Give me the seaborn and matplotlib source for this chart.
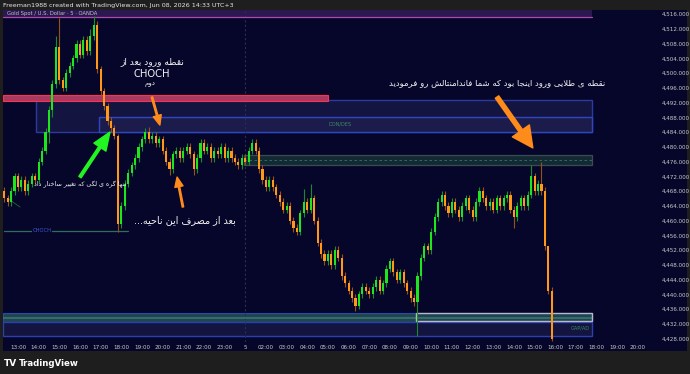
import matplotlib
matplotlib.use("Agg")
import matplotlib.pyplot as plt
import seaborn as sns
import numpy as np
import pandas as pd
from matplotlib.patches import Rectangle

# ---------------- data ----------------
first_open = 4468.0
closes = [
    4466, 4465, 4468, 4472, 4469, 4471, 4468, 4470, 4472, 4471,   # 0-9
    4476, 4479, 4484, 4490, 4497, 4507, 4498, 4496, 4500, 4502,   # 10-19
    4504, 4508, 4505, 4509, 4506, 4510, 4513, 4501, 4495, 4491,   # 20-29
    4487, 4485, 4483, 4459, 4464, 4470, 4473, 4475, 4477, 4480,   # 30-39
    4482, 4484, 4482, 4483, 4481, 4482, 4479, 4476, 4474, 4478,   # 40-49
    4479, 4477, 4479, 4480, 4478, 4474, 4477, 4481, 4479, 4480,   # 50-59
    4477, 4479, 4478, 4480, 4477, 4479, 4477, 4476, 4475, 4477,   # 60-69
    4476, 4479, 4481, 4479, 4474, 4471, 4469, 4471, 4469, 4467,   # 70-79
    4465, 4463, 4464, 4460, 4458, 4457, 4462, 4465, 4463, 4466,   # 80-89
    4460, 4454, 4451, 4449, 4451, 4448, 4452, 4450, 4445, 4443,   # 90-99
    4441, 4439, 4437, 4440, 4442, 4441, 4440, 4442, 4444, 4441,   # 100-109
    4443, 4447, 4449, 4446, 4444, 4446, 4443, 4441, 4439, 4438,   # 110-119
    4445, 4450, 4453, 4452, 4457, 4461, 4465, 4467, 4464, 4462,   # 120-129
    4465, 4463, 4461, 4464, 4466, 4463, 4461, 4465, 4468, 4466,   # 130-139
    4464, 4465, 4463, 4466, 4464, 4466, 4467, 4463, 4461, 4464,   # 140-149
    4466, 4464, 4467, 4472, 4468, 4470, 4468, 4453, 4441, 4428,   # 150-159
]
special_highs = {15: 4510, 16: 4515, 25: 4512, 26: 4515.5, 33: 4483.5,
                 42: 4485.5, 72: 4482, 87: 4468.5, 89: 4470, 153: 4475,
                 156: 4476, 158: 4449}
special_lows = {13: 4481, 14: 4488, 33: 4457, 48: 4472.5, 55: 4472.5,
                102: 4435.5, 120: 4428.7, 148: 4458, 159: 4427.5}

time_labels = ["13:00", "14:00", "15:00", "16:00", "17:00", "18:00", "19:00",
               "20:00", "21:00", "22:00", "23:00", "5", "02:00", "03:00",
               "04:00", "05:00", "06:00", "07:00", "08:00", "09:00", "10:00",
               "11:00", "12:00", "13:00", "14:00", "15:00", "16:00", "17:00",
               "18:00", "19:00", "20:00"]
price_ticks = list(range(4428, 4517, 4))

# ---------------- Persian shaping (no external libs) ----------------
FORMS = {  # isolated, final, initial, medial
    'ا': ('\uFE8D', '\uFE8E', None, None),
    'آ': ('\uFE81', '\uFE82', None, None),
    'ب': ('\uFE8F', '\uFE90', '\uFE91', '\uFE92'),
    'پ': ('\uFB56', '\uFB57', '\uFB58', '\uFB59'),
    'ت': ('\uFE95', '\uFE96', '\uFE97', '\uFE98'),
    'ث': ('\uFE99', '\uFE9A', '\uFE9B', '\uFE9C'),
    'ج': ('\uFE9D', '\uFE9E', '\uFE9F', '\uFEA0'),
    'چ': ('\uFB7A', '\uFB7B', '\uFB7C', '\uFB7D'),
    'ح': ('\uFEA1', '\uFEA2', '\uFEA3', '\uFEA4'),
    'خ': ('\uFEA5', '\uFEA6', '\uFEA7', '\uFEA8'),
    'د': ('\uFEA9', '\uFEAA', None, None),
    'ذ': ('\uFEAB', '\uFEAC', None, None),
    'ر': ('\uFEAD', '\uFEAE', None, None),
    'ز': ('\uFEAF', '\uFEB0', None, None),
    'ژ': ('\uFB8A', '\uFB8B', None, None),
    'س': ('\uFEB1', '\uFEB2', '\uFEB3', '\uFEB4'),
    'ش': ('\uFEB5', '\uFEB6', '\uFEB7', '\uFEB8'),
    'ص': ('\uFEB9', '\uFEBA', '\uFEBB', '\uFEBC'),
    'ض': ('\uFEBD', '\uFEBE', '\uFEBF', '\uFEC0'),
    'ط': ('\uFEC1', '\uFEC2', '\uFEC3', '\uFEC4'),
    'ظ': ('\uFEC5', '\uFEC6', '\uFEC7', '\uFEC8'),
    'ع': ('\uFEC9', '\uFECA', '\uFECB', '\uFECC'),
    'غ': ('\uFECD', '\uFECE', '\uFECF', '\uFED0'),
    'ف': ('\uFED1', '\uFED2', '\uFED3', '\uFED4'),
    'ق': ('\uFED5', '\uFED6', '\uFED7', '\uFED8'),
    'ک': ('\uFB8E', '\uFB8F', '\uFB90', '\uFB91'),
    'گ': ('\uFB92', '\uFB93', '\uFB94', '\uFB95'),
    'ل': ('\uFEDD', '\uFEDE', '\uFEDF', '\uFEE0'),
    'م': ('\uFEE1', '\uFEE2', '\uFEE3', '\uFEE4'),
    'ن': ('\uFEE5', '\uFEE6', '\uFEE7', '\uFEE8'),
    'و': ('\uFEED', '\uFEEE', None, None),
    'ه': ('\uFEE9', '\uFEEA', '\uFEEB', '\uFEEC'),
    'ی': ('\uFBFC', '\uFBFD', '\uFBFE', '\uFBFF'),
}


def fa(text):
    chars = list(text)
    n = len(chars)

    def joins_next(ch):
        f = FORMS.get(ch)
        return f is not None and f[2] is not None

    res = []
    i = 0
    while i < n:
        c = chars[i]
        if c not in FORMS:
            res.append(c)
            i += 1
            continue
        prev = chars[i - 1] if i > 0 else None
        nxt = chars[i + 1] if i + 1 < n else None
        cp = prev is not None and joins_next(prev)
        if c == 'ل' and nxt in ('ا', 'آ'):
            lig = {'ا': ('\uFEFB', '\uFEFC'), 'آ': ('\uFEF5', '\uFEF6')}[nxt]
            res.append(lig[1] if cp else lig[0])
            i += 2
            continue
        cn = joins_next(c) and nxt in FORMS
        iso, fin, ini, med = FORMS[c]
        if cp and cn:
            g = med
        elif cp:
            g = fin
        elif cn:
            g = ini
        else:
            g = iso
        res.append(g)
        i += 1
    return ''.join(res)[::-1]


# ---------------- build OHLC table ----------------
opens = [first_open] + closes[:-1]
df = pd.DataFrame({"idx": np.arange(len(closes)), "open": opens, "close": closes})
df["high"] = [special_highs.get(i, max(o, c) + 1.0) for i, o, c in zip(df.idx, df.open, df.close)]
df["low"] = [special_lows.get(i, min(o, c) - 1.0) for i, o, c in zip(df.idx, df.open, df.close)]
df["up"] = df.close >= df.open

# ---------------- figure ----------------
sns.set_theme(style="dark")
plt.rcParams["font.family"] = ["DejaVu Sans"]

W, H = 690, 374
NAVY = "#06062a"
fig = plt.figure(figsize=(W / 100, H / 100), dpi=100, facecolor="#1e1e1e")


def fx(px):
    return px / W


def fy(py):
    return 1 - py / H


pane = Rectangle((fx(3), fy(351)), fx(687) - fx(3), fy(10) - fy(351),
                 transform=fig.transFigure, facecolor=NAVY, edgecolor="none")
pane.set_zorder(-5)
fig.add_artist(pane)

ax = fig.add_axes([fx(3), fy(342), fx(656) - fx(3), fy(10) - fy(342)])
ax.set_zorder(1)
ax.set_facecolor(NAVY)
for s in ax.spines.values():
    s.set_visible(False)
ax.grid(False)
ax.set_xlim(-0.35, 189.26)
ax.set_ylim(4427.11, 4517.08)

XR = 170.7  # right edge of drawn zones
XL = -0.35


def zone(y0, y1, x0=XL, x1=XR, fc="none", ec="none", lw=0.8, alpha=1.0, z=1, ls="-"):
    ax.add_patch(Rectangle((x0, y0), x1 - x0, y1 - y0, facecolor=fc, edgecolor=ec,
                           linewidth=lw, alpha=alpha, zorder=z, linestyle=ls))


# top purple zone
zone(4515.2, 4517.2, fc="#2b1850", ec="none", z=1)
ax.plot([XL, XR], [4515.2, 4515.2], color="#b04aa8", lw=0.9, zorder=2)
# big blue zone + inner zone
zone(4484.0, 4492.7, x0=9.2, fc="#141440", ec="#2a3a9e", lw=1.0, z=1)
zone(4484.0, 4488.1, x0=27.5, fc="#1c1c4c", ec="#3046c0", lw=1.0, z=1)
# red band
zone(4492.4, 4494.0, x1=94.0, fc="#a83a60", ec="#ff3050", lw=0.8, z=2)
# teal dashed zone
zone(4475.1, 4477.8, x0=69.6, fc="#132a33", ec="#3b4b55", lw=0.9, z=1)
ax.plot([69.6, XR], [4476.45, 4476.45], color="#2f7474", lw=0.6, ls=(0, (3, 3)), zorder=2)
# bottom zones
zone(4432.5, 4435.0, fc="#1f4650", ec="#2a4ab0", lw=0.8, z=1)
ax.plot([XL, XR], [4433.7, 4433.7], color="#3c7474", lw=1.2, zorder=2)
zone(4428.7, 4432.5, fc="#141440", ec="#2a40b0", lw=1.0, z=1)
zone(4432.8, 4435.0, x0=119.6, fc="none", ec="#b8b8c8", lw=1.0, z=3)

# day separator
ax.axvline(70, color="#2c2c55", lw=0.8, ls=(0, (2, 2)), zorder=1)

# CHOCH line
ax.plot([0, 36], [4457.2, 4457.2], color="#2f6e5c", lw=0.9, zorder=2)
ax.text(11, 4457.2, "CHOCH", color="#3a5ad8", fontsize=3.8, ha="center", va="center",
        zorder=3, bbox=dict(facecolor=NAVY, edgecolor="none", pad=0.6))
ax.plot([1, 4.6], [4466, 4463.7], color="#1f6e2a", lw=0.6, zorder=2)

# ---------------- candles ----------------
UP, DN = "#1ee61e", "#ff9819"
UPW, DNW = "#1a8a2a", "#9a5014"
wick_cols = np.where(df.up, UPW, DNW)
ax.vlines(df.idx, df.low, df.high, colors=wick_cols, lw=0.8, zorder=4)
body_h = np.maximum((df.close - df.open).abs(), 0.3)
body_b = np.minimum(df.open, df.close)
ax.bar(df.idx, body_h, bottom=body_b, width=0.62, color=np.where(df.up, UP, DN),
       linewidth=0, zorder=5)

# ---------------- annotations ----------------
ORANGE = "#ff8c1a"
ax.annotate("", xy=(45.2, 4485.9), xytext=(42.9, 4493.5),
            arrowprops=dict(arrowstyle="simple,head_width=0.85,head_length=1.0,tail_width=0.15",
                            color=ORANGE, mutation_scale=7, shrinkA=0, shrinkB=0), zorder=7)
ax.annotate("", xy=(30.7, 4484.0), xytext=(22.0, 4471.8),
            arrowprops=dict(arrowstyle="simple,head_width=0.8,head_length=1.0,tail_width=0.15",
                            color="#22f522", mutation_scale=13, shrinkA=0, shrinkB=0), zorder=7)
ax.annotate("", xy=(50.2, 4471.8), xytext=(51.9, 4463.7),
            arrowprops=dict(arrowstyle="simple,head_width=0.85,head_length=1.0,tail_width=0.15",
                            color=ORANGE, mutation_scale=7, shrinkA=0, shrinkB=0), zorder=7)
ax.annotate("", xy=(153.5, 4479.7), xytext=(143.1, 4493.5),
            arrowprops=dict(arrowstyle="simple,head_width=1.0,head_length=1.0,tail_width=0.2",
                            color=ORANGE, mutation_scale=15, shrinkA=0, shrinkB=0), zorder=7)

TXT = "#f2f2f2"
ax.text(42.9, 4503.0, fa("نقطه ورود بعد از"), color=TXT, fontsize=6.6, ha="center", va="center", zorder=8)
ax.text(42.9, 4499.7, "CHOCH", color=TXT, fontsize=7.2, ha="center", va="center", zorder=8)
ax.text(42.3, 4497.0, fa("دوم"), color=TXT, fontsize=5, ha="center", va="center", zorder=8)
ax.text(22.0, 4469.7, fa("تنها گره ی لگی که تغییر ساختار داد"), color=TXT, fontsize=4.6,
        ha="center", va="center", zorder=8)
ax.text(52.5, 4460.2, fa("بعد از مصرف این ناحیه..."), color=TXT, fontsize=6.9,
        ha="center", va="center", zorder=8)
ax.text(143.1, 4497.3, fa("نقطه ی طلایی ورود اینجا بود که شما فاندامنتالش رو فرمودید"),
        color=TXT, fontsize=6.1, ha="center", va="center", zorder=8)
ax.text(97.5, 4486.2, "DON/DES", color="#3c8a5c", fontsize=3.6, ha="center", va="center", zorder=6)
ax.text(170.1, 4430.9, "GAP/AD", color="#3c8a5c", fontsize=3.6, ha="right", va="center", zorder=6)

# ---------------- axes ticks ----------------
ax.set_xticks([4 + 6 * k for k in range(len(time_labels))])
ax.set_xticklabels(time_labels)
ax.yaxis.tick_right()
ax.set_yticks(price_ticks)
ax.set_yticklabels([f"{v:,.3f}" for v in price_ticks])
ax.tick_params(axis="x", length=0, pad=2.2, labelsize=4.1, colors="#c8c8c8")
ax.tick_params(axis="y", length=0, pad=4.3, labelsize=4.1, colors="#c8c8c8")

# ---------------- chrome texts ----------------
fig.text(fx(3), fy(5), "Freeman1988 created with TradingView.com, Jun 08, 2026 14:33 UTC+3",
         color="#e6e6e6", fontsize=4.6, ha="left", va="center")
fig.text(fx(7), fy(14), "Gold Spot / U.S. Dollar \u00b7 5 \u00b7 OANDA",
         color="#c0c0c8", fontsize=3.8, ha="left", va="center", zorder=10)
fig.text(fx(4), fy(363.5), "TV", color="#ffffff", fontsize=6.5, fontweight="heavy",
         ha="left", va="center")
fig.text(fx(19), fy(363.5), "TradingView", color="#ffffff", fontsize=6.2, fontweight="bold",
         ha="left", va="center")

fig.savefig("out.png", dpi=100, facecolor=fig.get_facecolor())
